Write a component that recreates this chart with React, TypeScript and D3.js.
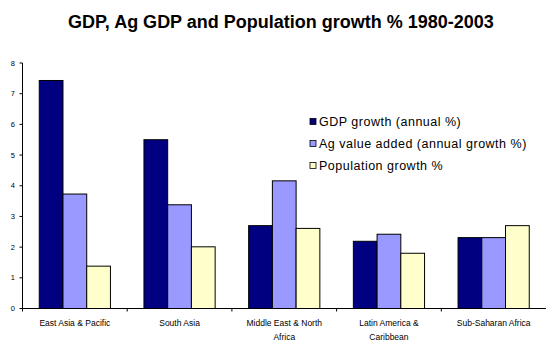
import React from "react";
import * as d3 from "d3";

const categories = [
  ["East Asia & Pacific"],
  ["South Asia"],
  ["Middle East & North", "Africa"],
  ["Latin America &", "Caribbean"],
  ["Sub-Saharan Africa"],
];
const seriesNames = [
  "GDP growth (annual %)",
  "Ag value added (annual growth %)",
  "Population growth %",
];
const gdpGrowth = [7.43, 5.5, 2.7, 2.19, 2.31];
const agGrowth = [3.73, 3.38, 4.16, 2.42, 2.31];
const popGrowth = [1.38, 2.01, 2.61, 1.8, 2.7];
const yTicks = [0, 1, 2, 3, 4, 5, 6, 7, 8];

const colors = ["#000080", "#9999FF", "#FFFFCC"];
const W = 546;
const H = 341;
const FONT = "'Liberation Sans', Arial, sans-serif";

export default function App() {
  const values = [gdpGrowth, agGrowth, popGrowth];
  const keys = categories.map((c) => c.join(" "));
  const left = 22.5;
  const right = 546;
  const top = 63;
  const bottom = 308.5;

  const x = d3.scaleBand<string>().domain(keys).range([left, right]).paddingInner(0.32).paddingOuter(0.16);
  const xs = d3.scaleBand<number>().domain([0, 1, 2]).range([0, x.bandwidth()]);
  const y = d3.scaleLinear().domain([0, 8]).range([bottom, top]);
  const step = x.step();

  return (
    <svg width={W} height={H} style={{ position: "absolute", left: 0, top: 0, background: "#fff" }} fontFamily={FONT}>
      <text x={281} y={28} textAnchor="middle" fontWeight="bold" fontSize={18}>
        GDP, Ag GDP and Population growth % 1980-2003
      </text>

      {/* bars */}
      {keys.map((k, ci) =>
        values.map((vals, si) => {
          const x0 = (x(k) as number) + (xs(si) as number);
          return (
            <rect
              key={`${ci}-${si}`}
              x={x0}
              y={y(vals[ci])}
              width={xs.bandwidth()}
              height={bottom - y(vals[ci])}
              fill={colors[si]}
              stroke="#000"
              strokeWidth={1}
            />
          );
        })
      )}

      {/* y axis */}
      <line x1={left} x2={left} y1={top} y2={bottom} stroke="#000" />
      {yTicks.map((t) => (
        <g key={t}>
          <line x1={left - 3} x2={left} y1={y(t)} y2={y(t)} stroke="#000" />
          <text x={15} y={y(t)} dy="0.35em" textAnchor="end" fontSize={7.5}>
            {t}
          </text>
        </g>
      ))}

      {/* x axis */}
      <line x1={left} x2={right} y1={bottom} y2={bottom} stroke="#000" />
      {keys.map((k, i) => (
        <line key={k} x1={left + step * i} x2={left + step * i} y1={bottom} y2={bottom + 3} stroke="#000" />
      ))}
      {categories.map((lines, i) => {
        const cx = (x(keys[i]) as number) + x.bandwidth() / 2;
        return lines.map((ln, j) => (
          <text key={`${i}-${j}`} x={cx} y={323.5 + j * 14} dy="0.35em" textAnchor="middle" fontSize={8.5}>
            {ln}
          </text>
        ));
      })}

      {/* legend */}
      {seriesNames.map((name, i) => {
        const cy = 121.5 + i * 22;
        return (
          <g key={name}>
            <rect x={310} y={cy - 3} width={6} height={6} fill={colors[i]} stroke="#000" strokeWidth={0.8} />
            <text x={319} y={cy} dy="0.35em" fontSize={12.5} letterSpacing={0.5}>
              {name}
            </text>
          </g>
        );
      })}
    </svg>
  );
}
